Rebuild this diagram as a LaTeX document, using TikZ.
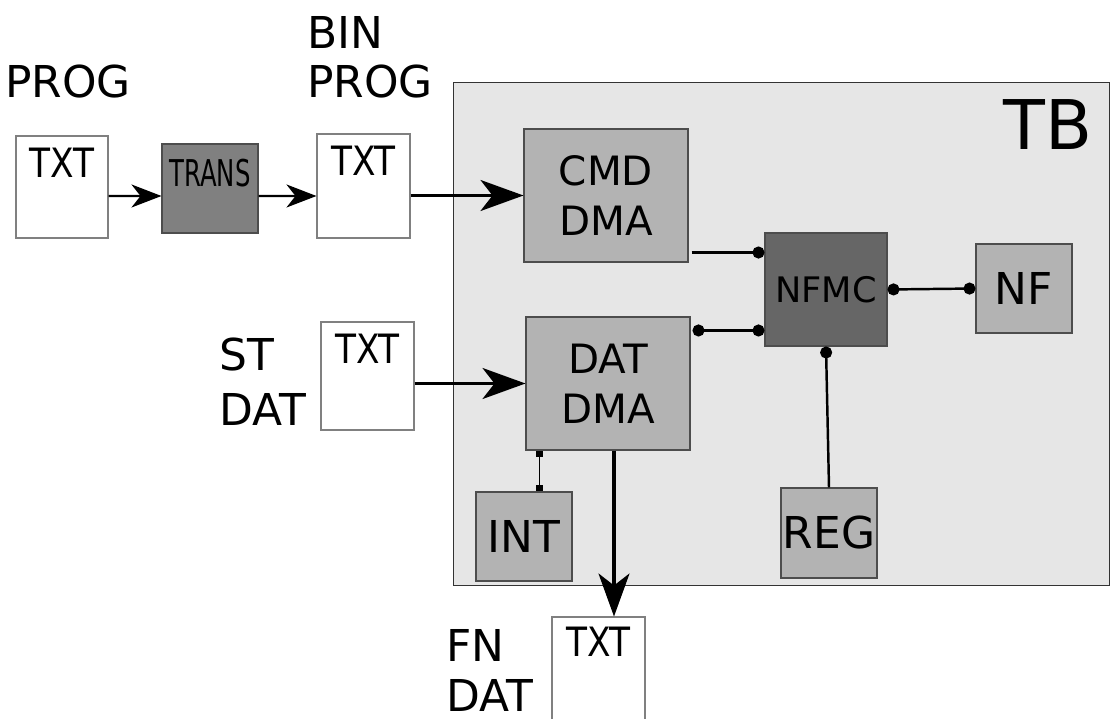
\documentclass[tikz,border=0pt]{standalone}
\usepackage{fontspec}
\setmainfont{DejaVu Sans}
\usepackage{tikz}
\usetikzlibrary{arrows.meta}

\definecolor{tbgray}{HTML}{E6E6E6}
\definecolor{blockgray}{HTML}{B3B3B3}
\definecolor{darkblock}{HTML}{666666}
\definecolor{transgray}{HTML}{808080}
\definecolor{edgegray}{HTML}{4D4D4D}

\begin{document}
\begin{tikzpicture}[x=0.02cm, y=-0.02cm,
  ballend/.tip={Circle[length=0.24cm]},
  sqend/.tip={Square[length=0.13cm]},
  txtbox/.style={draw=gray, line width=0.6pt, fill=white, inner sep=0pt,
                 minimum width=1.86cm, minimum height=2.08cm},
  txtlabel/.style={anchor=north, inner sep=0pt, yshift=-0.24cm,
                   font=\fontsize{23}{26}\selectfont},
  block/.style={draw=edgegray, line width=0.6pt, fill=blockgray, inner sep=0pt,
                align=center, font=\fontsize{23}{28.45}\selectfont},
  small block/.style={block, minimum width=1.92cm, minimum height=1.78cm,
                      font=\fontsize{25}{30}\selectfont},
  big block/.style={block, minimum width=3.28cm, minimum height=2.66cm},
  lbl/.style={anchor=base west, align=left, inner sep=0pt,
              font=\fontsize{25}{28.45}\selectfont},
  smallarrow/.style={line width=1.2pt, -{Stealth[length=0.6cm, width=0.46cm, inset=0.18cm]}},
  bigarrow/.style={line width=1.8pt, -{Stealth[length=0.86cm, width=0.62cm, inset=0.24cm]}},
  dotlink/.style={line width=1.4pt},
  sqlink/.style={line width=0.7pt, {sqend}-{sqend}}
]

  \useasboundingbox (0,0) rectangle (1112,719);
  \clip (0,0) rectangle (1112,719);

  % test bench frame
  \node [draw=black!80, line width=0.6pt, fill=tbgray, minimum width=13.14cm,
         minimum height=10.08cm] (tb) at (781.5, 334) {};
  \node [anchor=base east, inner sep=0pt, font=\fontsize{39}{45}\selectfont]
         (tbname) at (1093, 150) {TB};

  % input and output files
  \node [txtbox, minimum width=1.84cm, minimum height=2.04cm,
         label={[txtlabel]north:\scalebox{0.85}[1]{TXT}}] (txtA) at (62,    187)   {};
  \node [txtbox, label={[txtlabel]north:\scalebox{0.85}[1]{TXT}}] (txtB) at (363.5, 186)   {};
  \node [txtbox, minimum height=2.16cm,
         label={[txtlabel]north:\scalebox{0.85}[1]{TXT}}] (txtC) at (367.5, 376)   {};
  \node [txtbox, minimum height=2.2cm,
         label={[txtlabel, yshift=0.04cm]north:\scalebox{0.85}[1]{TXT}}] (txtD) at (598.5, 672) {};

  % file names (base is the last line)
  \node [lbl] (prog)    at (5,   98)  {PROG};
  \node [lbl] (binprog) at (307, 98)  {BIN\\PROG};
  \node [lbl, font=\fontsize{25}{31.3}\selectfont] (stdat) at (219, 425) {ST\\DAT};
  \node [lbl] (fndat)   at (446, 711) {FN\\DAT};

  % translator
  \node [block, fill=transgray, minimum width=1.92cm, minimum height=1.78cm,
         label={[inner sep=0pt, yshift=0.3cm, font=\fontsize{21}{24}\selectfont]center:\scalebox{0.66}[1]{TRANS}}]
         (trans) at (210, 188.5) {};

  % blocks inside the test bench
  \node [big block] (cmd)  at (606, 195.5) {CMD\\DMA};
  \node [big block] (dat)  at (608, 383.5) {DAT\\DMA};
  \node [block, fill=darkblock, minimum width=2.44cm, minimum height=2.26cm,
         font=\fontsize{20}{24}\selectfont] (nfmc) at (826, 289.5) {NFMC};
  \node [small block] (nf)   at (1024, 288.5) {NF};
  \node [small block] (int)  at (524,  536.5) {INT};
  \node [small block, minimum height=1.8cm] (reg) at (829, 533) {REG};

  % arrows
  \draw [smallarrow] ([yshift=-0.18cm]txtA.east)  -- ([yshift=-0.15cm]trans.west);
  \draw [smallarrow] ([yshift=-0.15cm]trans.east) -- ([yshift=-0.2cm]txtB.west);
  \draw [bigarrow]   (txtB.east |- cmd.west) -- (cmd.west);
  \draw [bigarrow]   (txtC.east |- dat.west) -- (dat.west);
  \draw [bigarrow]   ([xshift=0.12cm]dat.south) coordinate (d1) -- (d1 |- txtD.north);

  % links
  \draw [dotlink, -{ballend}]
         ([xshift=0.06cm, yshift=0.2cm]cmd.south east) coordinate (c1) -- (c1 -| nfmc.west);
  \draw [dotlink, {ballend}-{ballend}]
         ([xshift=0.04cm, yshift=-0.28cm]dat.north east) coordinate (c2) -- (c2 -| nfmc.west);
  \draw [dotlink, {ballend}-{ballend}] (nfmc.east)  -- (nf.west);
  \draw [dotlink, {ballend}-]          (nfmc.south) -- (reg.north);
  \draw [sqlink] ([xshift=0.28cm]dat.south west) coordinate (c3) -- (c3 |- int.north);

\end{tikzpicture}
\end{document}
